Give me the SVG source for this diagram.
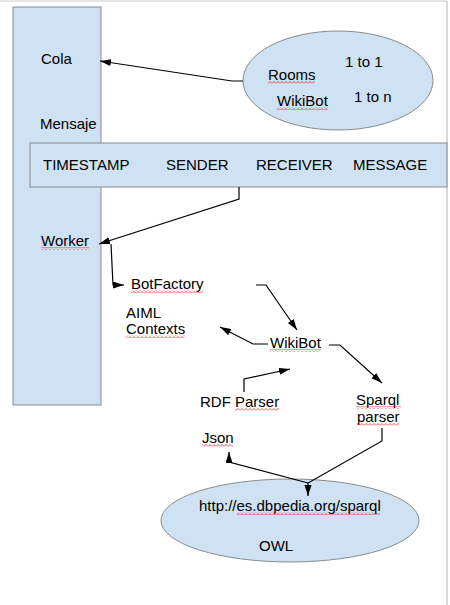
<svg xmlns="http://www.w3.org/2000/svg" width="450" height="605" viewBox="0 0 450 605">
<style>
text{font-family:"Liberation Sans",Arial,sans-serif;font-size:15px;fill:#000}
.box{fill:#cfe2f3;stroke:#8a8a8a;stroke-width:1}
.c{fill:none;stroke:#000;stroke-width:1.2}
.sq{fill:url(#wavy)}
</style>
<defs>
<marker id="ah" markerUnits="userSpaceOnUse" markerWidth="12" markerHeight="9" refX="11" refY="3.5" orient="auto">
<path d="M0,0 L11,3.5 L0,7 Z" fill="#000"/>
</marker>
<pattern id="wavy" patternUnits="userSpaceOnUse" width="4" height="3">
<path d="M0,2.5 L2,0.5 L4,2.5" fill="none" stroke="#e02020" stroke-width="0.8"/>
</pattern>
</defs>
<rect x="0" y="0" width="450" height="605" fill="#fff"/>
<g id="page">
<line x1="0" y1="1" x2="447" y2="1" stroke="#ccc" stroke-width="1"/>
<line x1="447" y1="1" x2="447" y2="605" stroke="#ccc" stroke-width="1.5"/>
</g>
<g id="cola-column">
<rect class="box" x="13" y="7" width="88" height="398"/>
<text x="41" y="64">Cola</text>
<text x="40" y="129">Mensaje</text>
<text x="41" y="246">Worker</text>
<rect class="sq" x="41" y="247" width="48" height="3"/>
</g>
<g id="message-row">
<rect class="box" x="30" y="143" width="417" height="44"/>
<text x="43" y="170">TIMESTAMP</text>
<text x="166" y="170">SENDER</text>
<text x="256" y="170">RECEIVER</text>
<text x="353" y="170">MESSAGE</text>
</g>
<g id="rooms">
<ellipse class="box" cx="338" cy="80.5" rx="95" ry="49.5"/>
<text x="268" y="80">Rooms</text>
<rect class="sq" x="268" y="81" width="47" height="3"/>
<text x="277" y="106">WikiBot</text>
<rect class="sq" x="277" y="107" width="51" height="3"/>
<text x="345" y="67">1 to 1</text>
<text x="354" y="102">1 to n</text>
</g>
<g id="botfactory">
<text x="131" y="289">BotFactory</text>
<rect class="sq" x="131" y="290" width="72" height="3"/>
</g>
<g id="aiml">
<text x="126" y="318">AIML</text>
<text x="126" y="334">Contexts</text>
<rect class="sq" x="126" y="335" width="59" height="3"/>
</g>
<g id="wikibot">
<text x="270" y="348">WikiBot</text>
<rect class="sq" x="270" y="349" width="51" height="3"/>
</g>
<g id="rdf">
<text x="200" y="407">RDF Parser</text>
<rect class="sq" x="235" y="408" width="44" height="3"/>
</g>
<g id="sparql">
<text x="356" y="405">Sparql</text>
<rect class="sq" x="356" y="406" width="45" height="3"/>
<text x="357" y="422">parser</text>
<rect class="sq" x="357" y="423" width="42" height="3"/>
</g>
<g id="json">
<text x="202" y="443">Json</text>
<rect class="sq" x="202" y="444" width="31" height="3"/>
</g>
<g id="dbpedia">
<ellipse class="box" cx="290" cy="520.5" rx="129" ry="41.5"/>
<text x="199" y="511">http://es.dbpedia.org/sparql</text>
<rect class="sq" x="237" y="512" width="143" height="3"/>
<text x="259" y="551">OWL</text>
</g>
<g id="connectors">
<path class="c" d="M243,81 L232,81 L100,61" marker-end="url(#ah)"/>
<path class="c" d="M239,187 L239,199 L99,244" marker-end="url(#ah)"/>
<path class="c" d="M111,244 L113,285 L124,285" marker-end="url(#ah)"/>
<path class="c" d="M256,285 L266,285 L297,330" marker-end="url(#ah)"/>
<path class="c" d="M268,344 L253,344 L220,327" marker-end="url(#ah)"/>
<path class="c" d="M329,345 L340,345 L382,383" marker-end="url(#ah)"/>
<path class="c" d="M244,392 L244,379 L290,369" marker-end="url(#ah)"/>
<path class="c" d="M382,428 L382,441 L308,483 L308,496" marker-end="url(#ah)"/>
<path class="c" d="M308,483 L229,462 L229,452" marker-end="url(#ah)"/>
</g>
</svg>
